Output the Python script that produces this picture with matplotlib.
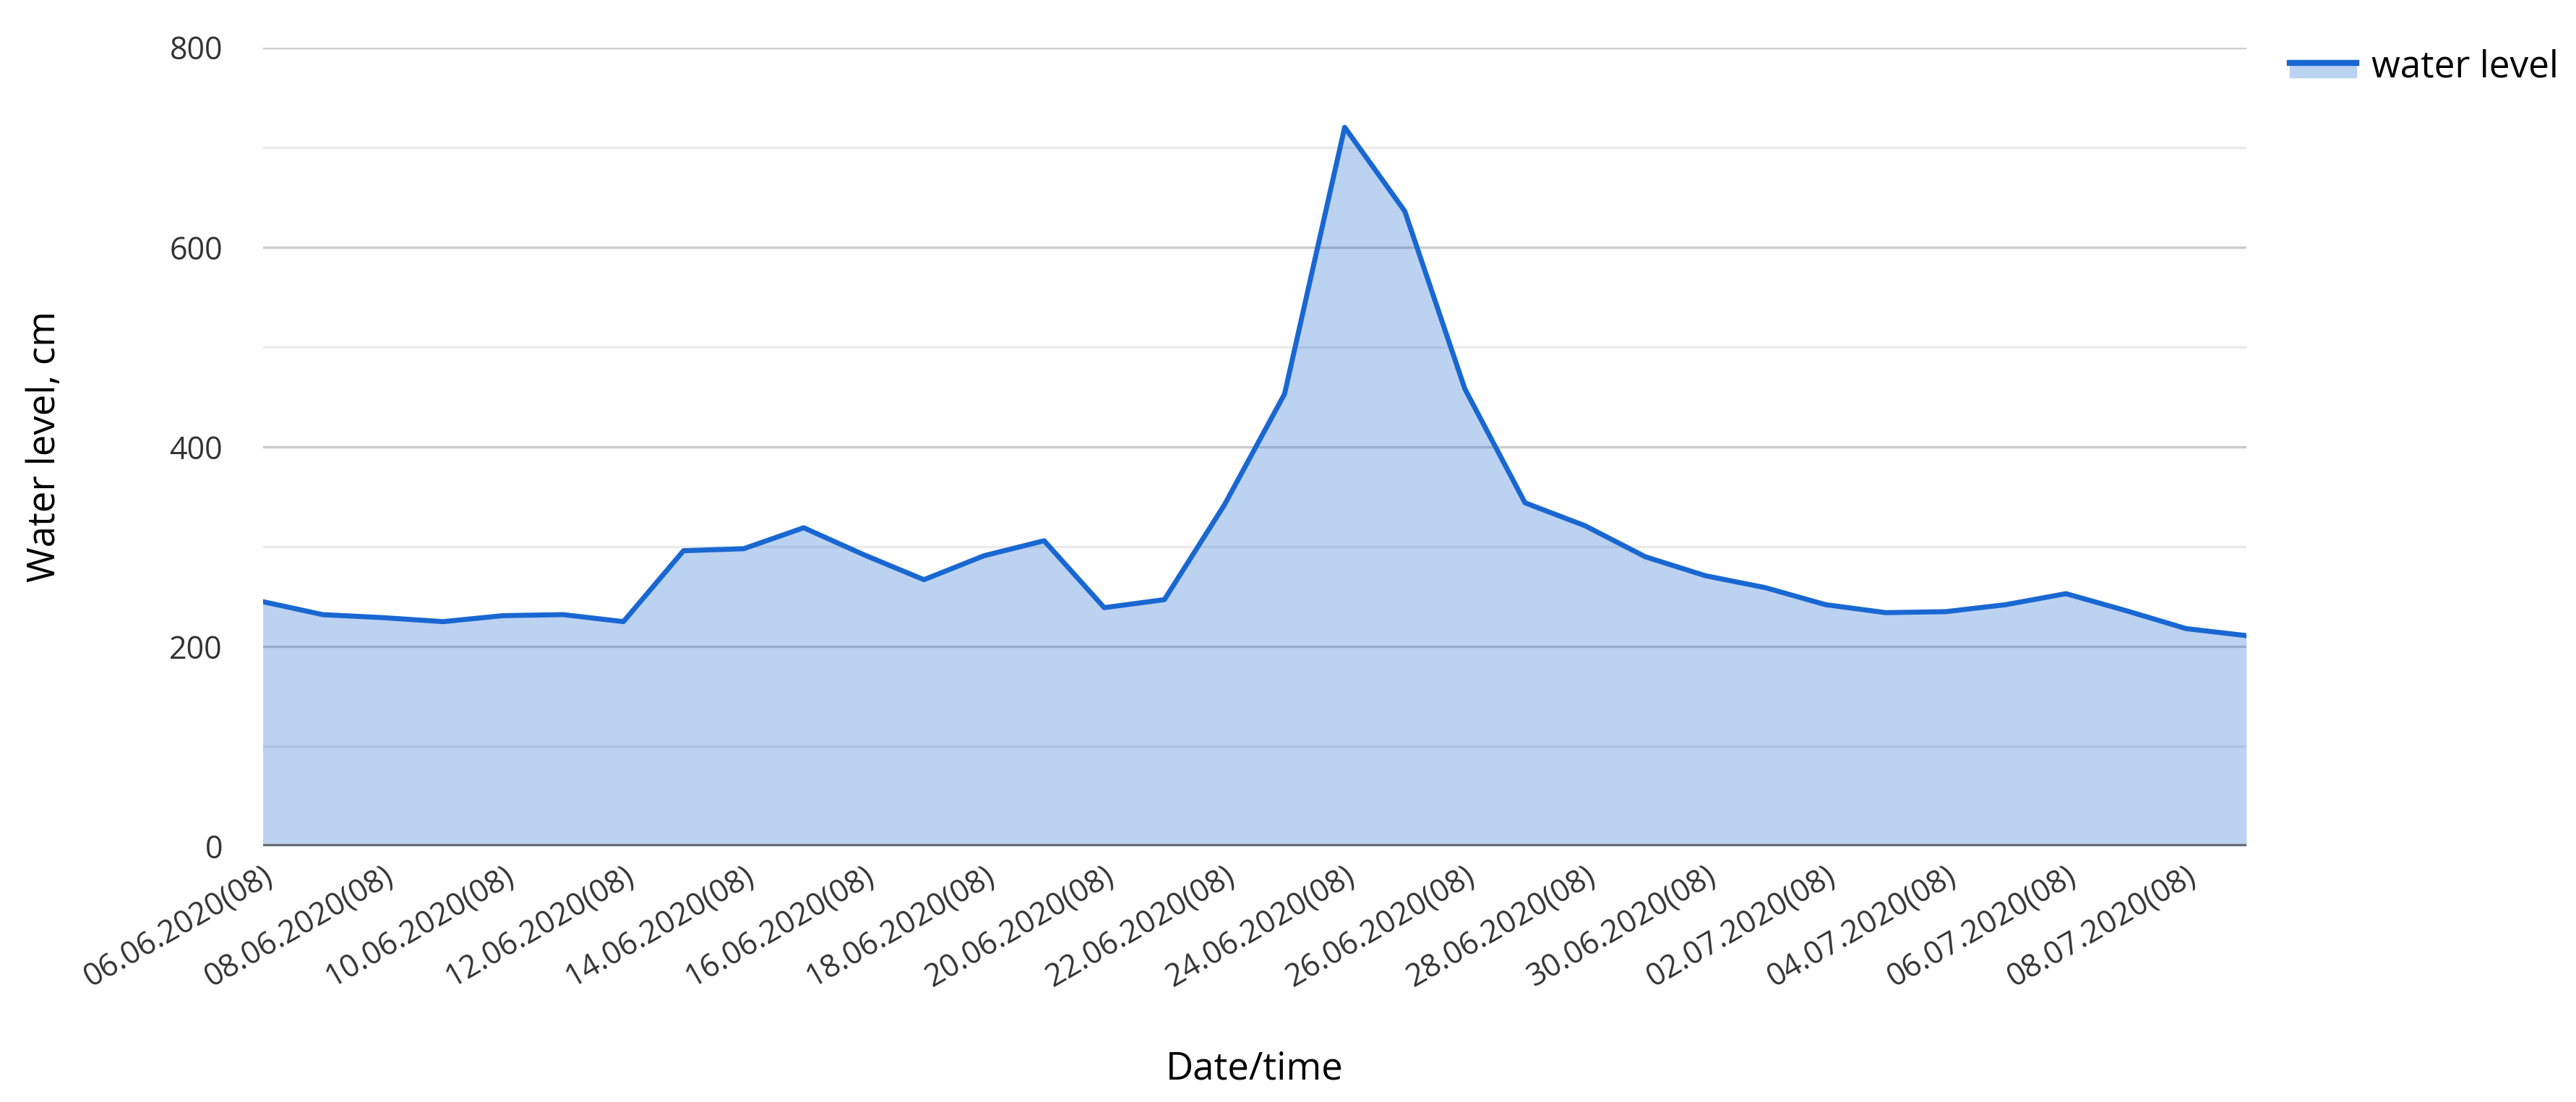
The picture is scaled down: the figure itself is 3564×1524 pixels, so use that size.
import numpy as np
import matplotlib.pyplot as plt
from matplotlib.lines import Line2D
from matplotlib.patches import Patch, Rectangle
from matplotlib.legend_handler import HandlerBase

# daily readings at 08h, 06.06.2020 .. 09.07.2020
dates = ['06.06', '07.06', '08.06', '09.06', '10.06', '11.06', '12.06', '13.06',
         '14.06', '15.06', '16.06', '17.06', '18.06', '19.06', '20.06', '21.06',
         '22.06', '23.06', '24.06', '25.06', '26.06', '27.06', '28.06', '29.06',
         '30.06', '01.07', '02.07', '03.07', '04.07', '05.07', '06.07', '07.07',
         '08.07', '09.07']
level = [245, 232, 229, 225, 231, 232, 225, 296, 298, 319, 292, 267, 291, 306,
         239, 247, 342, 453, 720, 636, 458, 344, 321, 290, 271, 259, 242, 234,
         235, 242, 253, 236, 218, 211]

labels = [d + '.2020(08)' for d in dates]
x = np.arange(len(level))

line_c = '#1967d2'
fill_c = '#bcd2f3'


class AreaHandler(HandlerBase):
    # legend key: line sitting on top of a strip of the fill colour
    def create_artists(self, legend, orig, xd, yd, w, h, fontsize, trans):
        r = Rectangle((xd, yd), w, h * 0.55, color=fill_c, transform=trans)
        l = Line2D([xd, xd + w], [yd + h * 0.55] * 2, color=line_c, lw=6,
                   transform=trans)
        return [r, l]


plt.rcParams['font.family'] = ['Open Sans', 'DejaVu Sans']

fig = plt.figure(figsize=(35.64, 15.24), dpi=100)
ax = fig.add_axes([0.102, 0.232, 0.770, 0.725])

ax.set_yticks(np.arange(0, 801, 200))
ax.set_yticks(np.arange(100, 800, 200), minor=True)
ax.grid(axis='y', which='major', color='#cccccc', lw=2.5, zorder=0)
ax.grid(axis='y', which='minor', color='#ebebeb', lw=2.5, zorder=0)
ax.set_axisbelow(True)

ax.fill_between(x, 0, level, color=line_c, alpha=0.29, lw=0, zorder=2)
ax.plot(x, level, color=line_c, lw=5, zorder=3)
ax.axhline(0, color='#666666', lw=4, zorder=4)

ax.set_xlim(0, len(level) - 1)
ax.set_ylim(0, 800)
ax.set_xticks(x[::2])
ax.set_xticklabels(labels[::2], rotation=30, ha='right', rotation_mode='anchor')
ax.tick_params(axis='both', which='both', length=0, labelsize=31, colors='#333333')
ax.tick_params(axis='x', pad=14)
ax.tick_params(axis='y', pad=40)
for s in ax.spines.values():
    s.set_visible(False)

ax.set_ylabel('Water level, cm', fontsize=38, labelpad=105)
ax.set_xlabel('Date/time', fontsize=38, labelpad=55)

key = Patch(color=fill_c)
ax.legend([key], ['water level'], handler_map={Patch: AreaHandler()},
          loc='upper left', bbox_to_anchor=(1.005, 1.04),
          frameon=False, fontsize=37, handlelength=1.8, handletextpad=0.4)

fig.savefig('out.png', dpi=100, facecolor='white')
